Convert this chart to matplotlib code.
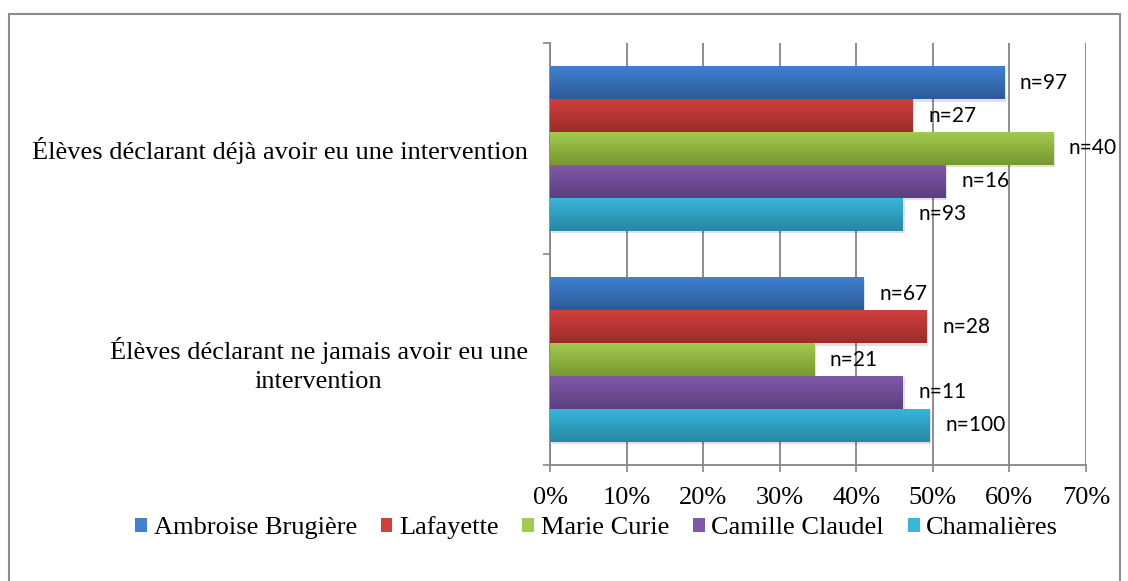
import numpy as np
import matplotlib.pyplot as plt
from matplotlib.patches import Patch, Rectangle
from matplotlib.colors import LinearSegmentedColormap

# data
categories = ["Élèves déclarant déjà avoir eu une intervention",
              "Élèves déclarant ne jamais avoir eu une\nintervention"]
schools = ["Ambroise Brugière", "Lafayette", "Marie Curie", "Camille Claudel", "Chamalières"]
pct_deja = [0.593, 0.474, 0.657, 0.517, 0.461]
pct_jamais = [0.410, 0.492, 0.345, 0.461, 0.496]
n_deja = [97, 27, 40, 16, 93]
n_jamais = [67, 28, 21, 11, 100]
xticks = [0, 0.1, 0.2, 0.3, 0.4, 0.5, 0.6, 0.7]

# top / bottom gradient colours per series
grad = [("#3f80d0", "#2b5b98"),
        ("#d13f3c", "#9c2c2a"),
        ("#a2ca4e", "#77972f"),
        ("#8059aa", "#5c3f7d"),
        ("#36b6da", "#2787a2")]

serif = "Liberation Serif"
fs = 19

fig = plt.figure(figsize=(11.28, 5.81), dpi=100)
ax = fig.add_axes([550/1128, 1-465/581, (1086-550)/1128, (465-43)/581])

# outer frame
fig.patches.append(Rectangle((9/1128, -0.1), (1120-9)/1128, 1.1-14/581,
                             transform=fig.transFigure, fill=False,
                             edgecolor="#8c8c8c", lw=1.5))

group_h = 0.78
bh = group_h / len(schools)
values = [pct_deja, pct_jamais]
counts = [n_deja, n_jamais]

for ci in range(len(categories)):
    for si in range(len(schools)):
        y = ci - group_h/2 + bh*(si + 0.5)
        v = values[ci][si]
        top, bot = grad[si]
        # light shadow
        ax.barh(y + 0.012, v, height=bh, left=0.002, color="#000000", alpha=0.12,
                zorder=2, lw=0)
        bar = ax.barh(y, v, height=bh, color=top, lw=0, zorder=3)[0]
        cmap = LinearSegmentedColormap.from_list("g", [top, bot])
        img = ax.imshow(np.linspace(0, 1, 64).reshape(-1, 1), cmap=cmap, aspect="auto",
                        extent=(0, v, y + bh/2, y - bh/2), zorder=3.5,
                        interpolation="bicubic")
        img.set_clip_path(bar)
        ax.annotate("n=%d" % counts[ci][si], (v, y), xytext=(11, 0),
                    textcoords="offset points", va="center", ha="left",
                    fontsize=15, family="Lato", color="black", zorder=5)

ax.set_xlim(0, 0.7)
ax.set_ylim(1.5, -0.5)

ax.set_xticks(xticks)
ax.set_xticklabels(["%d%%" % round(t*100) for t in xticks], family=serif, fontsize=fs)
ax.tick_params(axis="x", direction="out", length=5, color="#868686", width=1.2, pad=11)
ax.grid(axis="x", color="#868686", lw=1.3, zorder=1)
ax.set_axisbelow(True)

ax.set_yticks([0, 1])
ax.set_yticklabels(categories, family=serif, fontsize=fs, ha="right",
                   multialignment="center", linespacing=1.4)
ax.tick_params(axis="y", which="major", length=0, pad=16)
ax.set_yticks([-0.5, 0.5, 1.5], minor=True)
ax.tick_params(axis="y", which="minor", direction="out", length=5,
               color="#868686", width=1.2)

for s in ["top", "right"]:
    ax.spines[s].set_visible(False)
for s in ["left", "bottom"]:
    ax.spines[s].set_color("#868686")
    ax.spines[s].set_linewidth(1.3)

handles = [Patch(facecolor=g[0], edgecolor="none") for g in grad]
fig.legend(handles, schools, loc="center", bbox_to_anchor=(0.529, 1-528/581),
           ncol=5, frameon=False, prop={"family": serif, "size": fs},
           handlelength=0.45, handleheight=0.45, handletextpad=0.25,
           columnspacing=0.9)

fig.savefig("out.png", dpi=100)
